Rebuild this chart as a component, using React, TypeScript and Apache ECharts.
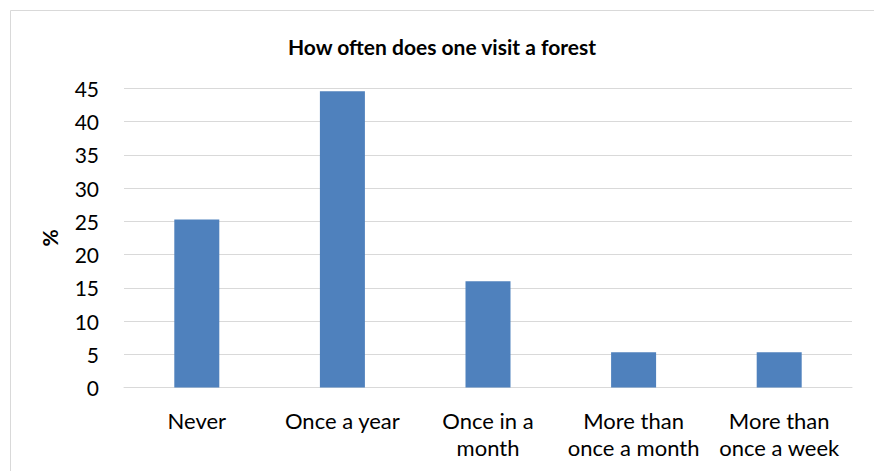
import React, { useEffect, useRef } from "react";
import * as echarts from "echarts";

const categories = [
  "Never",
  "Once a year",
  "Once in a\nmonth",
  "More than\nonce a month",
  "More than\nonce a week",
];
const visitShares = [25.3, 44.6, 16.0, 5.3, 5.3];
const yMin = 0;
const yMax = 45;
const yStep = 5;

const FONT = "Lato, 'Open Sans', sans-serif";

export default function App() {
  const ref = useRef<HTMLDivElement>(null);

  useEffect(() => {
    if (!ref.current) return;
    const chart = echarts.init(ref.current, null, { renderer: "svg" });
    chart.setOption({
      animation: false,
      backgroundColor: "#ffffff",
      title: {
        text: "How often does one visit a forest",
        left: 437,
        textAlign: "center",
        top: 31,
        textStyle: {
          fontFamily: FONT,
          fontWeight: "bold",
          fontSize: 21,
          color: "#000000",
        },
      },
      graphic: [
        {
          type: "rect",
          shape: { x: 10.5, y: 10.5, width: 900, height: 500 },
          style: { fill: "none", stroke: "#d9d9d9", lineWidth: 1 },
          silent: true,
          z: -1,
        },
      ],
      grid: { left: 124, right: 22, top: 88.5, bottom: 83.5 },
      xAxis: {
        type: "category",
        data: categories,
        axisLine: { show: true, lineStyle: { color: "#d9d9d9", width: 1 } },
        axisTick: { show: false },
        axisLabel: {
          interval: 0,
          margin: 19,
          fontFamily: FONT,
          fontSize: 22,
          lineHeight: 27,
          color: "#000000",
        },
      },
      yAxis: {
        type: "value",
        min: yMin,
        max: yMax,
        interval: yStep,
        name: "%",
        nameLocation: "middle",
        nameGap: 64,
        nameRotate: 90,
        nameTextStyle: {
          fontFamily: FONT,
          fontWeight: "bold",
          fontSize: 21,
          color: "#000000",
        },
        axisLine: { show: false },
        axisTick: { show: false },
        splitLine: { lineStyle: { color: "#d9d9d9", width: 1 } },
        axisLabel: {
          margin: 25,
          fontFamily: FONT,
          fontSize: 21,
          color: "#000000",
        },
      },
      series: [
        {
          type: "bar",
          data: visitShares,
          barWidth: 45,
          itemStyle: { color: "#4f81bd" },
        },
      ],
    });
    return () => chart.dispose();
  }, []);

  return (
    <div
      ref={ref}
      style={{ position: "fixed", left: 0, top: 0, width: 874, height: 471 }}
    />
  );
}
